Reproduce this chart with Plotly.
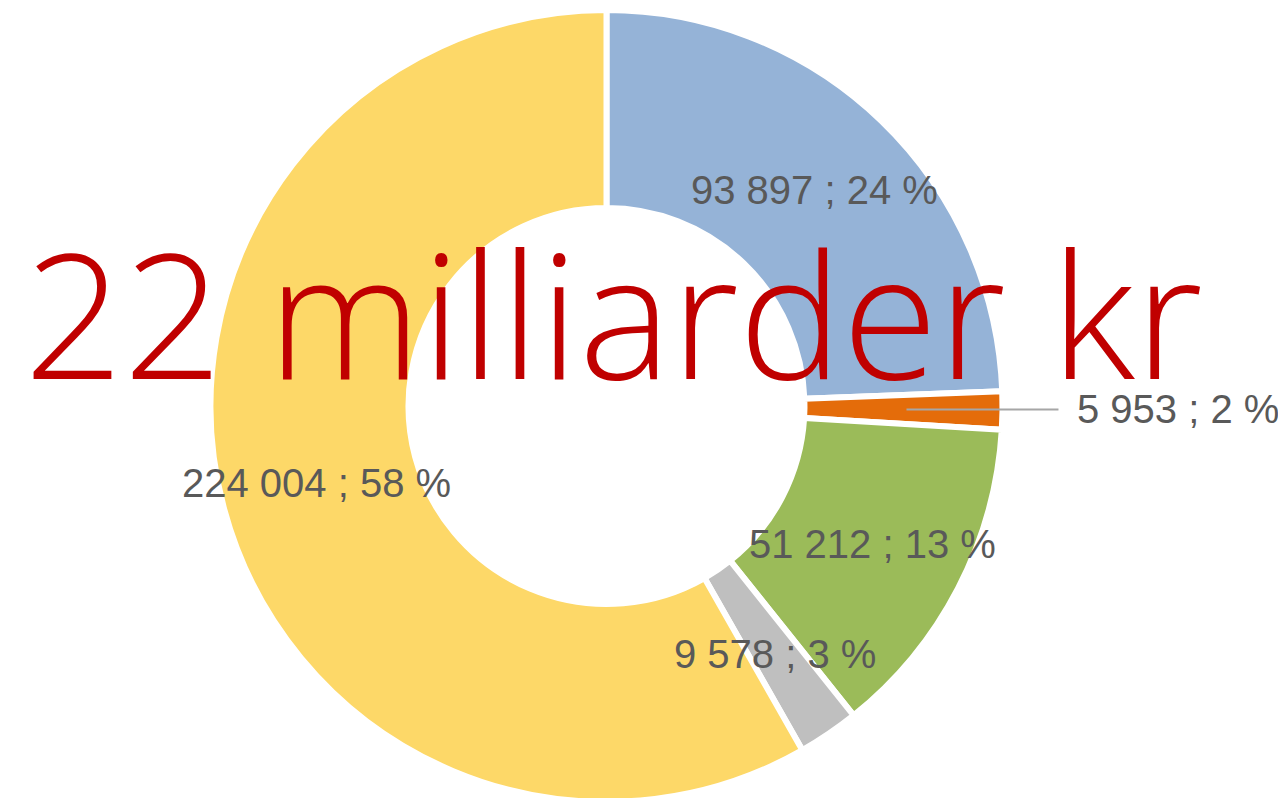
import math
import plotly.graph_objects as go

# ---- data ----
categories = ["Blå", "Orange", "Grøn", "Grå", "Gul"]
values = [93897, 5953, 51212, 9578, 224004]
pct_labels = [24, 2, 13, 3, 58]
colors = ["#95B3D7", "#E46C0A", "#9BBB59", "#BFBFBF", "#FDD868"]
title_text = "22 milliarder kr"

W, H = 1286, 798
# page body has an 8px margin, so figure px = screen px - 8
cx, cy = 598.5, 398.0     # pie centre (figure px)
R = 396.0                 # pie radius (px)
hole = 0.5
label_r = 300.0

def fmt(v):
    return f"{v:,}".replace(",", " ")

fig = go.Figure()
fig.add_trace(go.Pie(
    labels=categories, values=values, sort=False, direction="clockwise",
    rotation=0, hole=hole, textinfo="none", hoverinfo="label+value+percent",
    marker=dict(colors=colors, line=dict(color="white", width=6)),
    domain=dict(x=[(cx - R) / W, (cx + R) / W], y=[1 - (cy + R) / H, 1 - (cy - R) / H]),
    showlegend=False,
))

label_font = dict(family="Liberation Sans, Arial", size=40, color="#595959")
total = sum(values)
cum = 0.0
annotations = []
for i, v in enumerate(values):
    mid = (cum + v / 2) / total * 2 * math.pi
    cum += v
    px = cx + label_r * math.sin(mid)
    py = cy - label_r * math.cos(mid)
    txt = f"{fmt(v)} ; {pct_labels[i]} %"
    if v / total < 0.02:
        # small slice: label outside with leader line
        annotations.append(dict(
            x=px / W, y=1 - py / H, xref="paper", yref="paper",
            text=txt, showarrow=True, arrowhead=0, arrowwidth=2,
            arrowcolor="#A6A6A6", ax=152, ay=0, xanchor="left", yanchor="middle",
            borderpad=18, font=label_font,
        ))
    else:
        annotations.append(dict(
            x=px / W, y=1 - py / H, xref="paper", yref="paper",
            text=txt, showarrow=False, xanchor="center", yanchor="middle",
            font=label_font,
        ))

annotations.append(dict(
    x=605 / W, y=1 - 303 / H, xref="paper", yref="paper",
    text=title_text, showarrow=False, xanchor="center", yanchor="middle",
    font=dict(family="Open Sans", size=174, color="#C00000", weight=350),
))

fig.update_layout(
    width=W, height=H, margin=dict(l=0, r=0, t=0, b=0),
    paper_bgcolor="white", plot_bgcolor="white",
    annotations=annotations,
)
fig.write_html("out.html")
